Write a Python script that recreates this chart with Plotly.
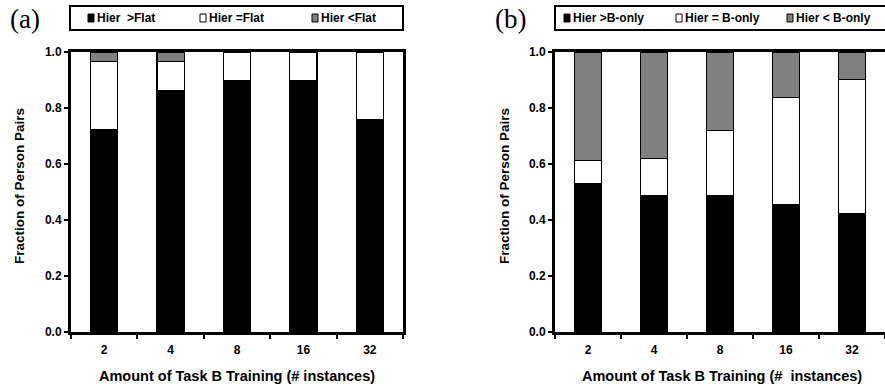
import plotly.graph_objects as go

W, H = 885, 386

categories = ["2", "4", "8", "16", "32"]

# Panel (a): Hierarchical vs Flat
a_names = ["Hier  >Flat", "Hier =Flat", "Hier <Flat"]
a_better = [0.724, 0.862, 0.897, 0.897, 0.759]
a_equal = [0.241, 0.103, 0.103, 0.103, 0.241]
a_worse = [0.035, 0.035, 0.0, 0.0, 0.0]

# Panel (b): Hierarchical vs B-only
b_names = ["Hier >B-only", "Hier = B-only", "Hier < B-only"]
b_better = [0.529, 0.488, 0.488, 0.456, 0.424]
b_equal = [0.083, 0.131, 0.231, 0.381, 0.478]
b_worse = [0.388, 0.381, 0.281, 0.163, 0.098]

y_ticks = [0.0, 0.2, 0.4, 0.6, 0.8, 1.0]

colors = ["#000000", "#ffffff", "#808080"]
FONT = "Liberation Sans, Arial, sans-serif"
SERIF = "Liberation Serif, Times New Roman, serif"


def px(x):
    return x / W


def py(y):
    return 1 - y / H


fig = go.Figure()

for vals, name, col in zip([a_better, a_equal, a_worse], a_names, colors):
    fig.add_trace(go.Bar(x=categories, y=vals, name=name, marker_color=col,
                         marker_line=dict(color="black", width=1.2), width=0.41,
                         xaxis="x", yaxis="y", showlegend=False))
for vals, name, col in zip([b_better, b_equal, b_worse], b_names, colors):
    fig.add_trace(go.Bar(x=categories, y=vals, name=name, marker_color=col,
                         marker_line=dict(color="black", width=1.2), width=0.41,
                         xaxis="x2", yaxis="y2", showlegend=False))

y_dom = [py(332), py(52)]
common_x = dict(type="category", tickson="boundaries", ticks="outside", ticklen=4,
                tickwidth=2, tickcolor="black", showline=True, linecolor="black",
                linewidth=3, mirror=True, showgrid=False, zeroline=False,
                automargin=False, ticklabelstandoff=5,
                tickfont=dict(family=FONT, size=12, color="black", weight="bold"),
                range=[-0.5, 4.5], fixedrange=True)
common_y = dict(range=[0, 1], tickvals=y_ticks, tickformat=".1f", ticks="outside",
                ticklen=4, tickwidth=2, tickcolor="black", showline=True,
                linecolor="black", linewidth=3, mirror=True, showgrid=False,
                zeroline=False, domain=y_dom, automargin=False, fixedrange=True,
                tickfont=dict(family=FONT, size=12, color="black", weight="bold"))

fig.update_layout(
    width=W, height=H, margin=dict(l=0, r=0, t=0, b=0, pad=0), autosize=False,
    paper_bgcolor="white", plot_bgcolor="white", barmode="stack", bargap=0,
    xaxis=dict(domain=[px(71), px(403)], anchor="y", **common_x),
    yaxis=dict(anchor="x", **common_y),
    xaxis2=dict(domain=[px(555), px(885)], anchor="y2", **common_x),
    yaxis2=dict(anchor="x2", **common_y),
    showlegend=False, hovermode=False,
)

shapes = []
annotations = []

# Legend boxes
shapes.append(dict(type="rect", xref="paper", yref="paper", x0=px(70), x1=px(403),
                   y0=py(30), y1=py(6), line=dict(color="black", width=2)))
shapes.append(dict(type="rect", xref="paper", yref="paper", x0=px(555), x1=px(887),
                   y0=py(30), y1=py(6), line=dict(color="black", width=2)))

legend_a_x = [88, 200, 312]
legend_b_x = [564, 676, 787]
for xs, names in [(legend_a_x, a_names), (legend_b_x, b_names)]:
    for x0, name, col in zip(xs, names, colors):
        shapes.append(dict(type="rect", xref="paper", yref="paper", x0=px(x0), x1=px(x0 + 6),
                           y0=py(22), y1=py(14), fillcolor=col,
                           line=dict(color="black", width=1)))
        annotations.append(dict(xref="paper", yref="paper", x=px(x0 + 7), y=py(18),
                                text=name, showarrow=False, xanchor="left", yanchor="middle",
                                font=dict(family=FONT, size=12, color="black", weight="bold")))

# Panel labels
annotations.append(dict(xref="paper", yref="paper", x=px(25), y=py(19), text="(a)",
                        showarrow=False, xanchor="center", yanchor="middle",
                        font=dict(family=SERIF, size=27, color="black")))
annotations.append(dict(xref="paper", yref="paper", x=px(510), y=py(19), text="(b)",
                        showarrow=False, xanchor="center", yanchor="middle",
                        font=dict(family=SERIF, size=27, color="black")))

# Axis titles
for xc in [20, 505]:
    annotations.append(dict(xref="paper", yref="paper", x=px(xc), y=py(186),
                            text="Fraction of Person Pairs", textangle=-90, showarrow=False,
                            xanchor="center", yanchor="middle",
                            font=dict(family=FONT, size=13.5, color="black", weight="bold")))
annotations.append(dict(xref="paper", yref="paper", x=px(237), y=py(376),
                        text="Amount of Task B Training (# instances)", showarrow=False,
                        xanchor="center", yanchor="middle",
                        font=dict(family=FONT, size=14.5, color="black", weight="bold")))
annotations.append(dict(xref="paper", yref="paper", x=px(722), y=py(376),
                        text="Amount of Task B Training (#  instances)", showarrow=False,
                        xanchor="center", yanchor="middle",
                        font=dict(family=FONT, size=14.5, color="black", weight="bold")))

fig.update_layout(shapes=shapes, annotations=annotations)
fig.write_html("out.html", config={"displayModeBar": False, "staticPlot": True},
               post_script="document.body.style.margin='0px';")
